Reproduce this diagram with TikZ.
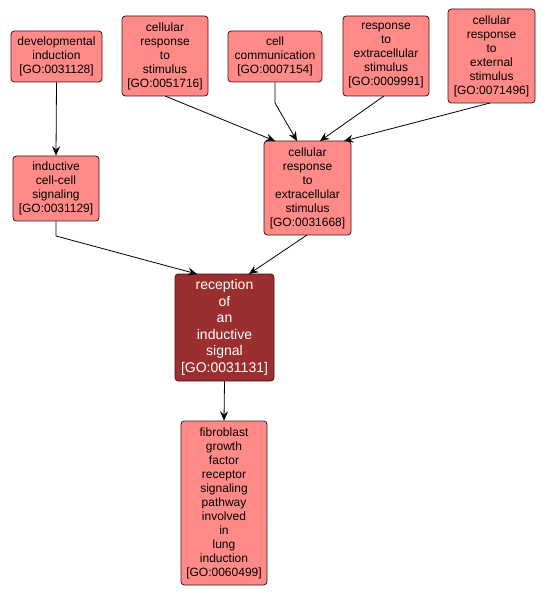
\documentclass[tikz,border=0pt]{standalone}
\usepackage{fontspec}
\setmainfont{Liberation Sans}
\usetikzlibrary{arrows.meta}
\definecolor{boxfill}{HTML}{FF8A88}
\definecolor{boxline}{HTML}{4A1010}
\definecolor{darkfill}{HTML}{9B2E2E}
\tikzset{
  term/.style={draw=boxline, fill=boxfill, rounded corners=2.5pt, align=center,
    inner sep=0pt, font=\fontsize{9pt}{10.5pt}\selectfont, line width=0.6pt},
  focus/.style={term, fill=darkfill, text=white, font=\fontsize{10.5pt}{12.4pt}\selectfont},
  link/.style={-{Stealth[length=7pt,width=6pt,inset=2.5pt]}, line width=0.6pt, black},
}
\begin{document}
\begin{tikzpicture}[x=0.75pt,y=-0.75pt]
\useasboundingbox (0,0) rectangle (545,598);
\node[term, minimum width=91*0.75pt, minimum height=51*0.75pt] (dev) at (56.5,56.5) {developmental\\induction\\{[GO:0031128]}};
\node[term, minimum width=86*0.75pt, minimum height=80*0.75pt] (crs) at (165,56) {cellular\\response\\to\\stimulus\\{[GO:0051716]}};
\node[term, minimum width=94*0.75pt, minimum height=51*0.75pt] (cc) at (275,56.5) {cell\\communication\\{[GO:0007154]}};
\node[term, minimum width=86*0.75pt, minimum height=80*0.75pt] (res) at (386,56) {response\\to\\extracellular\\stimulus\\{[GO:0009991]}};
\node[term, minimum width=87*0.75pt, minimum height=94*0.75pt] (ext) at (491.5,56) {cellular\\response\\to\\external\\stimulus\\{[GO:0071496]}};
\node[term, minimum width=86*0.75pt, minimum height=65*0.75pt] (ind) at (56,188.5) {inductive\\cell-cell\\signaling\\{[GO:0031129]}};
\node[term, minimum width=87*0.75pt, minimum height=94*0.75pt] (cre) at (307.5,188) {cellular\\response\\to\\extracellular\\stimulus\\{[GO:0031668]}};
\node[focus, minimum width=99*0.75pt, minimum height=107*0.75pt] (rec) at (224.5,327.5) {reception\\of\\an\\inductive\\signal\\{[GO:0031131]}};
\node[term, minimum width=86*0.75pt, minimum height=164*0.75pt] (fgf) at (224,503) {fibroblast\\growth\\factor\\receptor\\signaling\\pathway\\involved\\in\\lung\\induction\\{[GO:0060499]}};
\coordinate (ccbend) at (275,103);
\coordinate (indbend) at (56,236);
\draw[link] (dev.south) -- (ind.north);
\draw[link] (165,96) -- (275,141);
\draw[link] (cc.south) -- (ccbend) -- (297,141);
\draw[link] (384,96) -- (320,141);
\draw[link] (490,103) -- (344,141);
\draw[link] (ind.south) -- (indbend) -- (197,274);
\draw[link] (307,235) -- (249,274);
\draw[link] (rec.south) -- (fgf.north);
\end{tikzpicture}
\end{document}
